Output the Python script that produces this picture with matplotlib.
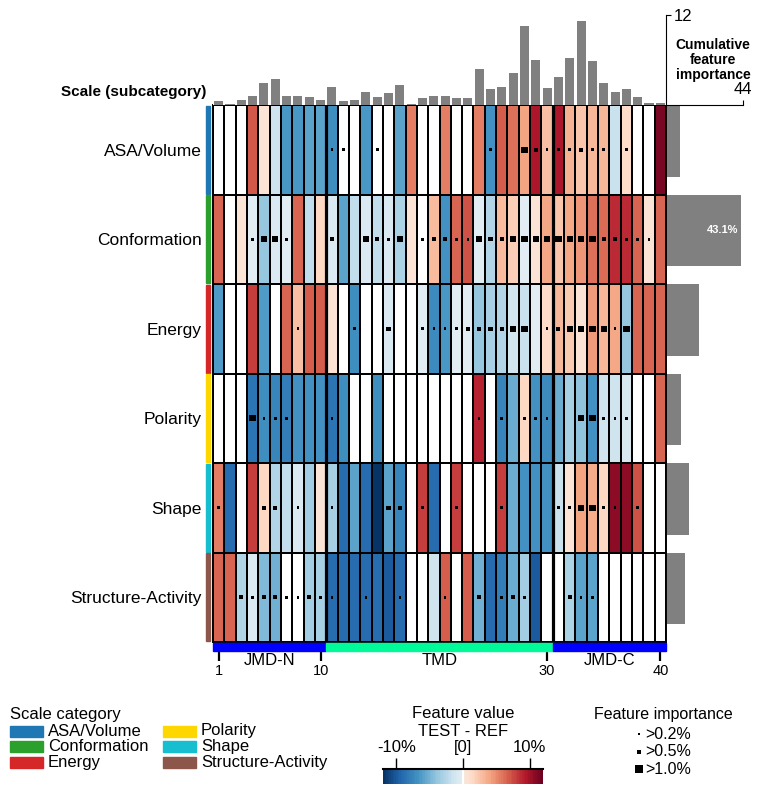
import matplotlib
matplotlib.use("Agg")
import matplotlib.pyplot as plt
from matplotlib.colors import ListedColormap
from matplotlib.patches import Rectangle
import numpy as np
import seaborn as sns

plt.rcParams['font.family'] = ['Liberation Sans', 'DejaVu Sans']

# ---- data ----
categories = ["ASA/Volume", "Conformation", "Energy", "Polarity", "Shape", "Structure-Activity"]
cat_colors = ["#1f77b4", "#2ca02c", "#d62728", "#ffd700", "#17becf", "#8c564b"]
positions = np.arange(1, 41)

# feature value TEST - REF (%) per scale category and residue position
val_asa = [0, 0, 0, 7.0, 0.6, -1.4, -6.5, -6.5, -5.8, -5.8,
           -7.0, 0, 0, -6.5, 0, 0, -5.8, 5.5, 0, 0,
           5.5, 0, 0, 5.5, -6.7, 6.9, 6.0, 4.0, 9.8, 2.6,
           9.8, 3.4, 2.4, 3.2, 3.2, -1.6, 1.2, 0, 0, 11.5]
val_conf = [6.5, 0, 0.4, -0.3, -4.0, -0.8, -0.3, 6.5, -2.0, 1.5,
            -0.8, -5.8, -2.0, -0.8, -2.0, -0.8, -2.8, 0.4, 0, 3.0,
            -6.7, 6.5, 7.2, -0.3, -2.6, 3.0, 2.0, -0.3, 0.4, 3.8,
            2.5, 3.8, 4.6, 6.0, 6.2, 8.8, 8.8, 6.5, 0.4, 6.5]
val_energy = [-6.2, 0, 0, 8.0, -6.2, 0, 6.5, 2.6, 6.7, 6.9,
              0.8, 0, -7.0, 0, 0, -0.7, 0, 0, -0.3, -7.3,
              -6.5, -0.3, -0.3, -4.0, -3.2, -2.6, -1.2, -1.8, -0.3, 1.2,
              3.2, 2.2, 0.6, 4.3, 3.2, 3.8, -4.0, 6.5, 6.5, 6.5]
val_polarity = [0, 0, 0, -8.5, -7.0, -7.4, -7.9, -6.7, -6.7, -6.7,
                -8.5, -7.0, 0, 0, -7.0, 0, 0, 0, 0, 0,
                0, 0, 0, 9.0, 0, -7.4, -5.4, 1.5, -6.7, -7.2,
                -5.4, -3.2, -4.2, -6.7, -1.4, -1.4, -1.0, 0, 0, 6.5]
val_shape = [5.5, -9.0, 0, 8.0, 1.5, -2.6, -2.0, -0.8, -3.5, 0.5,
             -3.2, -9.0, -5.8, -9.0, -11.8, -5.8, -7.4, 0, 8.0, -9.0,
             0, 8.0, 0, 0, 0, 8.0, -5.4, -6.7, -6.7, -6.7,
             -1.8, 0.5, 4.2, 3.6, 1.5, 10.6, 10.6, 7.2, 0, 0]
val_sa = [6.5, 6.5, -2.6, -0.8, -4.6, -5.0, 0, 0, -3.5, -3.2,
          -9.0, -9.0, -9.0, -9.0, -9.0, -10.0, -9.0, 0, 0, -1.4,
          6.9, 0, 6.9, -5.2, -9.0, -7.9, -5.4, -3.5, -10.0, 0,
          0, -2.8, -5.8, -5.8, 0, 0, 0, 0, 0, 0]

# feature importance class per cell: 0 none, 1 >0.2%, 2 >0.5%, 3 >1.0%
imp_asa = [0, 0, 0, 0, 0, 0, 0, 0, 0, 0,
           1, 1, 0, 0, 1, 0, 0, 0, 0, 0,
           0, 0, 0, 0, 1, 0, 0, 3, 2, 1,
           1, 1, 2, 1, 1, 0, 1, 0, 0, 0]
imp_conf = [0, 0, 0, 1, 3, 3, 1, 0, 0, 0,
            2, 0, 0, 3, 2, 1, 3, 0, 1, 2,
            2, 1, 1, 3, 2, 2, 3, 3, 3, 3,
            3, 3, 3, 3, 2, 2, 1, 1, 1, 0]
imp_energy = [0, 0, 0, 0, 0, 0, 0, 1, 0, 0,
              0, 0, 1, 0, 0, 2, 0, 0, 1, 1,
              1, 1, 2, 2, 2, 2, 3, 3, 0, 1,
              2, 3, 3, 3, 3, 1, 3, 0, 0, 0]
imp_polarity = [0, 0, 0, 3, 1, 1, 1, 0, 0, 0,
                1, 0, 0, 0, 0, 0, 0, 0, 0, 0,
                0, 0, 0, 1, 0, 1, 0, 1, 1, 1,
                0, 0, 3, 3, 1, 1, 1, 0, 0, 0]
imp_shape = [1, 0, 0, 0, 2, 2, 0, 1, 0, 0,
             1, 0, 0, 0, 0, 2, 2, 0, 1, 0,
             0, 1, 0, 0, 0, 1, 0, 0, 0, 0,
             1, 1, 3, 3, 1, 1, 0, 1, 0, 0]
imp_sa = [0, 0, 2, 1, 2, 2, 1, 1, 2, 1,
          1, 0, 0, 1, 0, 0, 1, 0, 0, 0,
          1, 0, 0, 2, 0, 1, 2, 1, 0, 0,
          0, 2, 1, 1, 0, 0, 0, 0, 0, 0]

# importance per position (%) and cumulative importance per category (%)
pos_importance = [0.58, 0.13, 0.7, 1.2, 3.0, 3.5, 1.2, 1.2, 1.07, 0.7,
                  2.4, 0.58, 0.7, 1.73, 1.07, 1.6, 2.67, 0.13, 0.93, 1.2,
                  1.2, 0.93, 0.93, 4.8, 2.13, 2.4, 4.27, 10.5, 6.0, 2.27,
                  3.73, 6.27, 11.2, 5.87, 2.93, 1.73, 2.13, 1.07, 0.27, 0.27]
cat_importance = [7.4, 43.1, 18.5, 8.0, 12.7, 10.3]

parts = ["JMD-N", "TMD", "JMD-C"]
part_bounds = [0, 10, 30, 40]
part_colors = ["#0000ff", "#00fa9a", "#0000ff"]
tick_pos = [1, 10, 30, 40]
imp_labels = [">0.2%", ">0.5%", ">1.0%"]

values = np.array([val_asa, val_conf, val_energy, val_polarity, val_shape, val_sa])
imp = np.array([imp_asa, imp_conf, imp_energy, imp_polarity, imp_shape, imp_sa])

# ---- colormap: RdBu_r with white centre ----
n_colors, n_cut = 100, 5
pal = sns.color_palette("RdBu_r", n_colors + 2 * n_cut)
half = len(pal) // 2
cmap = ListedColormap(list(pal[:half][:-n_cut - 1]) + [(1, 1, 1)] + list(pal[half:][n_cut + 1:]))

W, H = 761, 795
fig = plt.figure(figsize=(W / 100, H / 100), dpi=100)


def box(x0, y0, x1, y1):
    return [x0 / W, 1 - y1 / H, (x1 - x0) / W, (y1 - y0) / H]


# heatmap
ax = fig.add_axes(box(213, 105, 666, 642))
mesh = ax.pcolormesh(values, cmap=cmap, vmin=-12, vmax=12, edgecolors="black", linewidth=1.4)
ax.set_xlim(0, 40)
ax.set_ylim(6, 0)
for b in part_bounds[1:-1]:
    ax.axvline(b, color="black", lw=2.3)
for s in ax.spines.values():
    s.set_linewidth(1.4)

rr, cc = np.nonzero(imp)
sizes = np.array([0, 3.5, 9, 21])
ax.scatter(cc + 0.5, rr + 0.5, s=sizes[imp[rr, cc]], marker="s", color="black", linewidths=0, zorder=4)

ax.set_yticks(np.arange(len(categories)) + 0.5, categories, fontsize=12.5)
ax.tick_params(axis="y", length=0, pad=8)
ax.set_xticks(np.array(tick_pos) - 0.5, [str(p) for p in tick_pos])
ax.tick_params(axis="x", length=14, width=1.6, pad=2, labelsize=10.5)

for i, c in enumerate(cat_colors):
    ax.add_patch(Rectangle((-0.65, i + 0.01), 0.41, 0.98, color=c, clip_on=False))
for i, name in enumerate(parts):
    x0, x1 = part_bounds[i], part_bounds[i + 1]
    ax.add_patch(Rectangle((x0, 6.01), x1 - x0, 0.085, color=part_colors[i], clip_on=False, zorder=3))
    ax.text((x0 + x1) / 2, 6.21, name, ha="center", va="center", fontsize=12)

fig.text(206 / W, 1 - 92 / H, "Scale (subcategory)", ha="right", va="center", fontweight="bold", fontsize=11)

# top bar: importance per position
ax_top = fig.add_axes(box(213, 15, 666, 105))
ax_top.bar(positions - 0.5, pos_importance, width=0.8, color="gray")
ax_top.set_xlim(0, 40)
ax_top.set_ylim(0, 12)
for s in ["left", "top", "bottom"]:
    ax_top.spines[s].set_visible(False)
ax_top.yaxis.tick_right()
ax_top.set_yticks([12])
ax_top.set_xticks([])
ax_top.tick_params(axis="y", labelsize=12, pad=2)

# right bar: cumulative importance per category
ax_r = fig.add_axes(box(667, 105, 743, 642))
ax_r.barh(np.arange(len(categories)), cat_importance, height=0.8, align="edge", color="gray")
ax_r.set_ylim(6, 0)
ax_r.set_xlim(0, 44)
for s in ["left", "right", "bottom"]:
    ax_r.spines[s].set_visible(False)
ax_r.xaxis.tick_top()
ax_r.set_xticks([44])
ax_r.set_yticks([])
ax_r.tick_params(axis="x", labelsize=12, pad=2)
imax = int(np.argmax(cat_importance))
ax_r.text(cat_importance[imax] - 2, imax + 0.4, f"{cat_importance[imax]:.1f}%", color="white",
          fontweight="bold", fontsize=8, ha="right", va="center")
fig.text(713 / W, 1 - 60 / H, "Cumulative\nfeature\nimportance", ha="center", va="center",
         fontweight="bold", fontsize=10, linespacing=1.1)

# legend: scale category
fig.text(10 / W, 1 - 715 / H, "Scale category", fontsize=12, va="center")
for i, (cat, col) in enumerate(zip(categories, cat_colors)):
    cx = 10 if i < 3 else 163
    cy = 731 + 15.7 * (i % 3)
    fig.patches.append(Rectangle((cx / W, 1 - (cy + 5.5) / H), 33 / W, 11 / H,
                                 transform=fig.transFigure, color=col))
    fig.text((cx + 38) / W, 1 - cy / H, cat, fontsize=12, va="center")

# colorbar
cax = fig.add_axes(box(383, 769, 543, 784))
cb = fig.colorbar(mesh, cax=cax, orientation="horizontal", ticks=[-10, 0, 10])
cb.outline.set_visible(False)
cb.ax.xaxis.set_ticks_position("top")
cb.ax.set_xticklabels(["-10%", "[0]", "10%"], fontsize=12)
cb.ax.tick_params(length=8, width=1, pad=2)
cb.ax.axhline(1, color="black", lw=1.5, clip_on=False)
fig.text(463 / W, 1 - 713 / H, "Feature value", ha="center", va="center", fontsize=12)
fig.text(463 / W, 1 - 731 / H, "TEST - REF", ha="center", va="center", fontsize=12)

# legend: feature importance
fig.text(663 / W, 1 - 715 / H, "Feature importance", ha="center", va="center", fontsize=11.5)
lax = fig.add_axes(box(620, 724, 720, 780))
lax.set_xlim(620, 720)
lax.set_ylim(780, 724)
lax.axis("off")
leg_sizes = [4, 12, 28]
for k, lab in enumerate(imp_labels):
    yk = 734 + 17.7 * k
    lax.scatter([639], [yk], s=leg_sizes[k], marker="s", color="black", linewidths=0)
    lax.text(645, yk, lab, va="center", fontsize=11.5)

fig.savefig("out.png", dpi=100)
